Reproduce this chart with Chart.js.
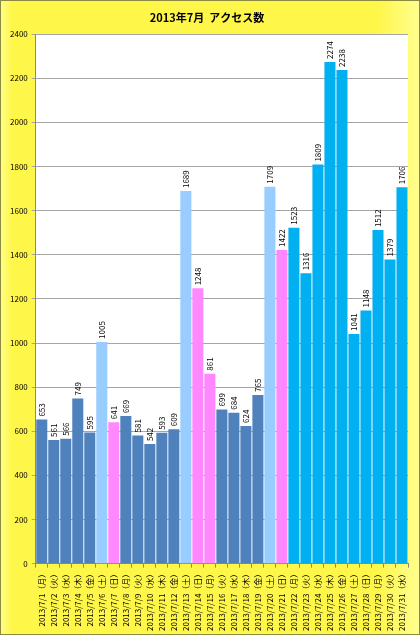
<!DOCTYPE html>
<html>
<head>
<meta charset="utf-8">
<script src="https://cdn.jsdelivr.net/npm/chart.js@4.4.1/dist/chart.umd.min.js"></script>
<style>
  html, body { margin: 0; padding: 0; background: #fff; }
  #wrap { width: 420px; height: 635px; }
</style>
</head>
<body>
<div id="wrap"><canvas id="myChart" width="420" height="635"></canvas></div>
<script>
// 日付と曜日
const days = ["月","火","水","木","金","土","日"];
const labels = [];
for (let d = 1; d <= 31; d++) {
  labels.push("2013/7/" + d + "（" + days[(d - 1) % 7] + "）");
}

// アクセス数
const visits = [653, 561, 566, 749, 595, 1005, 641, 669, 581, 542, 593, 609, 1689, 1248, 861,
  699, 684, 624, 765, 1709, 1422, 1523, 1316, 1809, 2274, 2238, 1041, 1148, 1512, 1379, 1706];

// 種別: w=平日, s=土曜, h=日曜・祝日, n=22日以降
const kinds = ["w","w","w","w","w","s","h","w","w","w","w","w","s","h","h",
  "w","w","w","w","s","h","n","n","n","n","n","n","n","n","n","n"];

const colors = { w: "#4F81BD", s: "#99CCFF", h: "#FF88FF", n: "#00B0F0" };

const fontFamily = "'Noto Sans CJK JP', 'DejaVu Sans', sans-serif";

// 背景と枠
const bgPlugin = {
  id: "bg",
  beforeDraw(chart) {
    const c = chart.ctx;
    const a = chart.chartArea;
    c.save();
    const g = c.createLinearGradient(0, 0, chart.width, 0);
    g.addColorStop(0, "#FFFF88");
    g.addColorStop(0.03, "#FFF64A");
    g.addColorStop(0.9, "#FFF64A");
    g.addColorStop(1, "#FFFF90");
    c.fillStyle = g;
    c.fillRect(0, 0, chart.width, chart.height);
    c.strokeStyle = "#8A8A40";
    c.lineWidth = 1;
    c.strokeRect(0.5, 0.5, chart.width - 1, chart.height - 1);
    c.fillStyle = "#FFFFFF";
    c.fillRect(a.left, a.top, a.right - a.left, a.bottom - a.top);
    c.restore();
  }
};

// 棒の上の値（縦書き）
const valuePlugin = {
  id: "values",
  afterDatasetsDraw(chart) {
    const c = chart.ctx;
    const meta = chart.getDatasetMeta(0);
    c.save();
    c.font = "8px " + fontFamily;
    c.fillStyle = "#000";
    c.textAlign = "left";
    c.textBaseline = "middle";
    meta.data.forEach((bar, i) => {
      c.save();
      c.translate(bar.x, bar.y - 3);
      c.rotate(-Math.PI / 2);
      c.fillText(String(visits[i]), 0, 0);
      c.restore();
    });
    c.restore();
  }
};

new Chart(document.getElementById("myChart").getContext("2d"), {
  type: "bar",
  data: {
    labels: labels,
    datasets: [{
      label: "アクセス数",
      data: visits,
      backgroundColor: kinds.map(k => colors[k]),
      barPercentage: 0.92,
      categoryPercentage: 1.0
    }]
  },
  options: {
    responsive: false,
    animation: false,
    layout: { padding: { left: 6, right: 12, top: 3, bottom: 2 } },
    plugins: {
      legend: { display: false },
      tooltip: { enabled: false },
      title: {
        display: true,
        text: "2013年7月  アクセス数",
        color: "#000",
        font: { family: fontFamily, size: 11, weight: "bold" },
        padding: { top: 8, bottom: 10 }
      }
    },
    scales: {
      x: {
        grid: { display: true, drawOnChartArea: false, tickLength: 4, color: "#888", offset: true },
        border: { color: "#888" },
        ticks: {
          color: "#000",
          font: { family: fontFamily, size: 8 },
          minRotation: 90,
          maxRotation: 90,
          autoSkip: false,
          padding: 2
        }
      },
      y: {
        min: 0,
        max: 2400,
        grid: { color: "#A6A6A6", tickLength: 4 },
        border: { color: "#888" },
        ticks: {
          stepSize: 200,
          color: "#000",
          font: { family: fontFamily, size: 8 },
          padding: 4,
          callback: v => String(v)
        }
      }
    }
  },
  plugins: [bgPlugin, valuePlugin]
});
</script>
</body>
</html>
